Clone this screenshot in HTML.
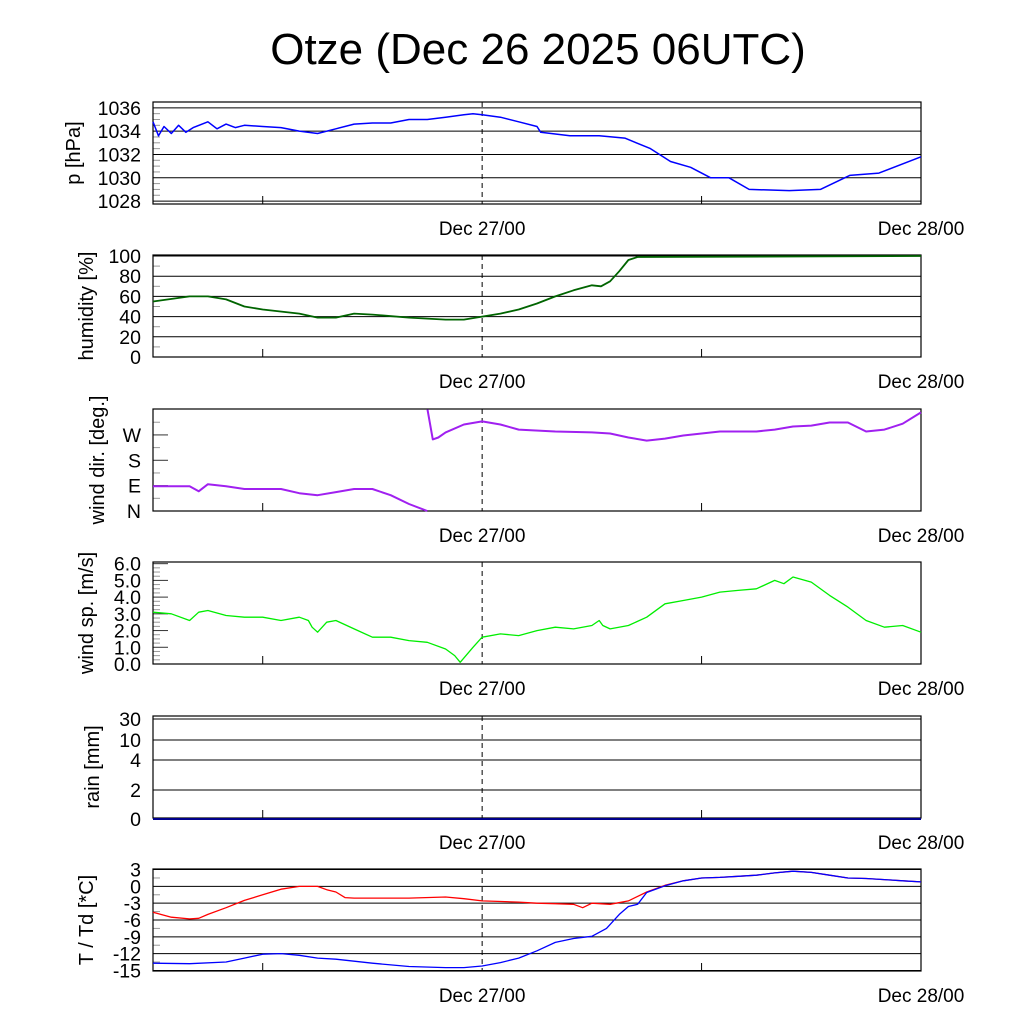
<!DOCTYPE html>
<html><head><meta charset="utf-8"><style>
body{margin:0;background:#fff}
svg{display:block;font-family:"Liberation Sans",sans-serif}
</style></head><body>
<svg id="c" width="1024" height="1024" xmlns="http://www.w3.org/2000/svg">
<text x="538" y="64" font-size="44" text-anchor="middle">Otze (Dec 26 2025 06UTC)</text>
</svg>
<script>
// hours since Dec 26 06UTC
const pH=[0,0.3,0.6,1,1.4,1.8,2.2,3,3.5,4,4.5,5,6,7,8,9,10,11,12,13,14,15,16,17,17.5,18,19,20,21,21.2,22.8,24.4,25.8,27.2,28.3,29.4,30.5,31.5,32.6,34.8,36.5,38.1,39.7,42];
const pV=[1034.8,1033.6,1034.4,1033.8,1034.5,1033.9,1034.3,1034.8,1034.2,1034.6,1034.3,1034.5,1034.4,1034.3,1034.0,1033.8,1034.2,1034.6,1034.7,1034.7,1035.0,1035.0,1035.2,1035.4,1035.5,1035.4,1035.2,1034.8,1034.4,1033.9,1033.6,1033.6,1033.4,1032.5,1031.4,1030.9,1030.0,1030.0,1029.0,1028.9,1029.0,1030.2,1030.4,1031.8];
const hH=[0,2,3,4,5,6,8,9,10,11,12,14,16,17,18,19,20,21,22,23,24,24.5,25,25.5,26,26.5,42];
const hV=[55,60,60,57,50,47,43,39,39,43,42,39,37,37,40,43,47,53,60,66,71,70,75,85,96,99,100];
const dH=[0,2,2.5,3,4,5,6,7,8,9,10,11,12,13,14,15,15.01,15.3,15.6,16,17,18,19,20,22,24,25,26,27,28,29,30,31,32,33,34,35,36,37,38,39,40,41,42];
const dV=[88,88,70,95,88,78,78,78,63,56,67,78,78,56,25,0,360,254,261,279,307,318,307,289,282,279,275,261,250,257,268,275,282,282,282,289,300,303,314,314,282,289,310,350];
const sH=[0,1,2,2.5,3,4,5,6,7,8,8.5,8.7,9,9.5,10,11,12,13,14,15,16,16.5,16.8,17.5,18,19,20,21,22,23,24,24.4,24.6,25,26,27,28,29,30,31,32,33,34,34.5,35,36,37,38,39,40,41,42];
const sV=[3.1,3.0,2.6,3.1,3.2,2.9,2.8,2.8,2.6,2.8,2.6,2.2,1.9,2.5,2.6,2.1,1.6,1.6,1.4,1.3,0.9,0.5,0.1,1.0,1.6,1.8,1.7,2.0,2.2,2.1,2.3,2.6,2.3,2.1,2.3,2.8,3.6,3.8,4.0,4.3,4.4,4.5,5.0,4.8,5.2,4.9,4.1,3.4,2.6,2.2,2.3,1.9];
const rH=[0,42];
const rV=[0,0];
const tH=[0,1,2,2.5,3,4,5,6,7,8,9,9.5,10,10.5,11,12,14,16,17,18,20,21,22,23,23.5,24,25,26,27,28,29,30,31,32,33,34,35,36,37,38,39,40,41,42];
const tV=[-4.6,-5.5,-5.8,-5.7,-5.0,-3.8,-2.5,-1.5,-0.5,0,0,-0.6,-1.0,-2.0,-2.1,-2.1,-2.1,-1.9,-2.2,-2.6,-2.8,-3.0,-3.1,-3.2,-3.8,-3.0,-3.2,-2.6,-1.0,0.2,1.0,1.5,1.6,1.8,2.0,2.4,2.7,2.5,2.0,1.5,1.4,1.2,1.0,0.8];
const tdH=[0,2,4,5,6,7,8,9,10,12,14,16,17,18,19,20,21,22,23,24,24.8,25.5,26,26.5,27,28,29,30,31,32,33,34,35,36,37,38,39,40,41,42];
const tdV=[-13.7,-13.8,-13.5,-12.8,-12.1,-12.0,-12.3,-12.8,-13.0,-13.7,-14.3,-14.5,-14.5,-14.2,-13.6,-12.8,-11.5,-10.0,-9.3,-8.9,-7.5,-5.0,-3.6,-3.2,-1.1,0.1,1.0,1.5,1.6,1.8,2.0,2.4,2.7,2.5,2.0,1.5,1.4,1.2,1.0,0.8];

const svg=document.getElementById('c');
const NS='http://www.w3.org/2000/svg';
const L=153,R=921,H=102;
const X=h=>L+(R-L)*h/42;
function mk(t,a,p){const e=document.createElementNS(NS,t);for(const k in a)e.setAttribute(k,a[k]);(p||svg).appendChild(e);return e;}
function panel(name,top,ymap,ticks,labels,grid,ylabel,minors){
  const g=mk('g',{});
  
  
  const Y=v=>top+ymap(v)*H;
  if(minors) minors.forEach(v=>{mk('line',{x1:L,x2:L+7,y1:Y(v),y2:Y(v),stroke:'#999','stroke-width':1},g);});
  ticks.forEach((v,i)=>{
    if(grid) mk('line',{x1:L,x2:R,y1:Y(v),y2:Y(v),stroke:'#000','stroke-width':1},g);
    else {mk('line',{x1:L,x2:L+15,y1:Y(v),y2:Y(v),stroke:'#333'},g);}
    const t=mk('text',{x:141,y:Y(v)+7,'font-size':19.5,'text-anchor':'end'},g);t.textContent=labels[i];
    
    
  });
  mk('rect',{x:L,y:top,width:R-L,height:H,fill:'none',stroke:'#000','stroke-width':1.2},g);
  [6,30].forEach(h=>mk('line',{x1:X(h),x2:X(h),y1:top+H,y2:top+H-8,stroke:'#000'},g));
  mk('line',{x1:X(18),x2:X(18),y1:top,y2:top+H,stroke:'#000','stroke-dasharray':'5,4'},g);
  [[18,'Dec 27/00'],[42,'Dec 28/00']].forEach(([h,s])=>{const t=mk('text',{x:X(h),y:top+H+31,'font-size':19,'text-anchor':'middle'},g);t.textContent=s;
    
    });
  const yl=mk('text',{x:0,y:0,'font-size':20,'text-anchor':'middle',transform:`translate(${ylabel[1]},${top+H/2}) rotate(-90)`},g);yl.textContent=ylabel[0];
  
  
  return Y;
}
function line(Y,hs,vs,col,name,w,breakWrap){
  let d='',prev=null;
  hs.forEach((h,i)=>{const v=vs[i];const cmd=(prev===null||(breakWrap&&Math.abs(v-prev)>180))?'M':'L';d+=cmd+X(h).toFixed(1)+','+Y(v).toFixed(1)+' ';prev=v;});
  const p=mk('path',{d:d,fill:'none',stroke:col,'stroke-width':w||1.5,'stroke-linejoin':'round'});
  
  
}
const pmin=1027.75,pmax=1036.5;
let Y=panel('pressure',102,v=>(pmax-v)/(pmax-pmin),[1028,1030,1032,1034,1036],['1028','1030','1032','1034','1036'],true,['p [hPa]',80],[1028.5,1029,1029.5,1030.5,1031,1031.5,1032.5,1033,1033.5,1034.5,1035,1035.5]);
line(Y,pH,pV,'#0000ff','pressure-line',1.5);
Y=panel('humidity',255,v=>(101-v)/101,[0,20,40,60,80,100],['0','20','40','60','80','100'],true,['humidity [%]',93],[10,30,50,70,90]);
line(Y,hH,hV,'#006400','humidity-line',1.8);
Y=panel('wind-direction',409,v=>(362-v)/362,[0,90,180,270],['N','E','S','W'],false,['wind dir. [deg.]',104],[45,135,225,315]);
line(Y,dH,dV,'#a020f0','wind-direction-line',2,true);
Y=panel('wind-speed',562,v=>(6.1-v)/6.1,[0,1,2,3,4,5,6],['0.0','1.0','2.0','3.0','4.0','5.0','6.0'],false,['wind sp. [m/s]',93],[0.25,0.5,0.75,1.25,1.5,1.75,2.25,2.5,2.75,3.25,3.5,3.75,4.25,4.5,4.75,5.25,5.5,5.75]);
line(Y,sH,sV,'#00ee00','wind-speed-line',1.3);
const rmap=v=>{const k=[0,2,4,10,30],p=[819,790,760,740,719];for(let i=0;i<4;i++){if(v<=k[i+1])return (p[i]+(v-k[i])/(k[i+1]-k[i])*(p[i+1]-p[i])-716)/H;}return 0;};
Y=panel('rain',716,rmap,[0,2,4,10,30],['0','2','4','10','30'],true,['rain [mm]',99]);
line(Y,rH,rV,'#00008b','rain-line',2);
Y=panel('temperature',869,v=>(3.1-v)/18.2,[-15,-12,-9,-6,-3,0,3],['-15','-12','-9','-6','-3','0','3'],true,['T / Td [*C]',93],[-13.5,-10.5,-7.5,-4.5,-1.5,1.5]);
line(Y,tH,tV,'#ff0000','temperature-line',1.3);
line(Y,tdH,tdV,'#0000ff','dewpoint-line',1.3);
</script>
</body></html>
